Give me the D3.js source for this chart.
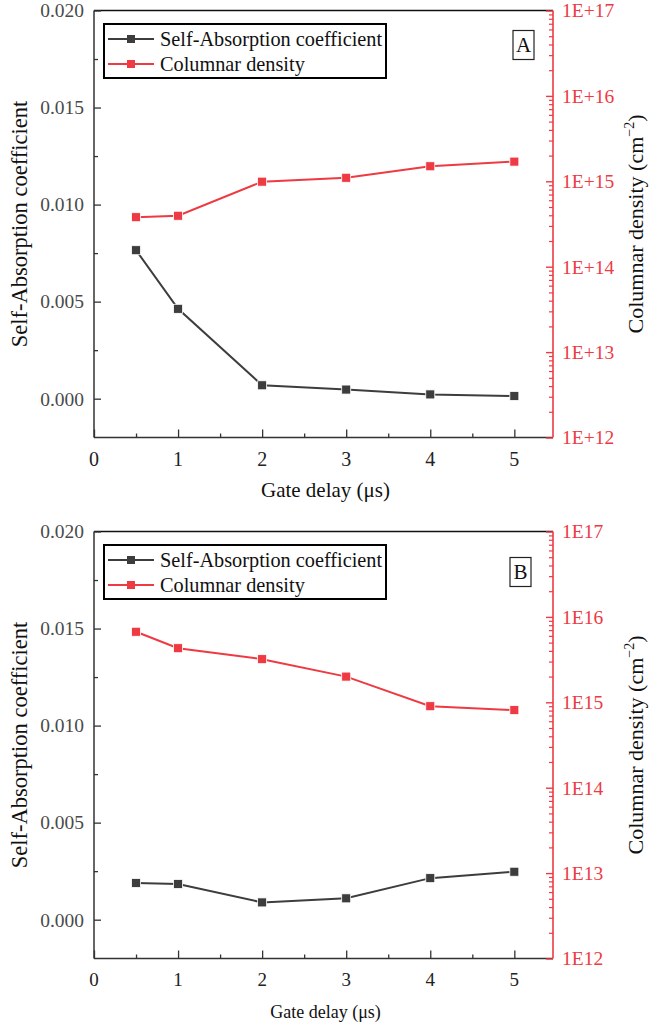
<!DOCTYPE html>
<html><head><meta charset="utf-8">
<script src="https://cdn.jsdelivr.net/npm/d3@7/dist/d3.min.js"></script>
<style>body{margin:0;background:#fff}svg{display:block}</style>
</head><body>
<svg id="c" width="653" height="1029" style="font-family:'Liberation Serif','Times New Roman','DejaVu Serif',serif"></svg>
<script>
// ---- data ----
const gateDelay = [0.5, 1, 2, 3, 4, 5];
const selfAbsA = [0.00765, 0.00463, 0.00069, 0.00047, 0.00022, 0.00014];
const densityA = [3.8e14, 3.95e14, 9.9e14, 1.1e15, 1.5e15, 1.7e15];
const selfAbsB = [0.00189, 0.00184, 0.00089, 0.00110, 0.00214, 0.00247];
const densityB = [6.7e15, 4.3e15, 3.2e15, 2.0e15, 9.0e14, 8.1e14];
const xTicks = [0, 1, 2, 3, 4, 5];
const leftTicks = [0, 0.005, 0.010, 0.015, 0.020];
const rightTicks = [1e12, 1e13, 1e14, 1e15, 1e16, 1e17];
const rightLabelsA = ["1E+12", "1E+13", "1E+14", "1E+15", "1E+16", "1E+17"];
const rightLabelsB = ["1E12", "1E13", "1E14", "1E15", "1E16", "1E17"];
const seriesNames = ["Self-Absorption coefficient", "Columnar density"];
const panelTags = ["A", "B"];

const FONT = "'Liberation Serif','Times New Roman','DejaVu Serif',serif";
const BLACK = "#3d3d3d", RED = "#ee3a42", AXIS = "#333";
const svg = d3.select("#c");

function txt(sel) { return sel.attr("font-family", FONT); }

function panel(cfg) {
  const L = 94, R = 553, T = cfg.top, B = cfg.top + 427;
  const x = d3.scaleLinear().domain([0, 5.46]).range([L, R]);
  const yL = d3.scaleLinear().domain([-0.002, 0.020]).range([B, T]);
  const yR = d3.scaleLog().domain([1e12, 1e17]).range([B, T]);
  const g = svg.append("g");

  g.append("line").attr("x1", L).attr("x2", R).attr("y1", T).attr("y2", T)
    .attr("stroke", "#111").attr("stroke-width", 1.5);

  // left axis
  const la = g.append("g").attr("transform", `translate(${L},0)`)
    .call(d3.axisRight(yL).tickValues(leftTicks).tickSize(7).tickFormat(""));
  la.select(".domain").remove();
  la.selectAll("line").attr("stroke", AXIS).attr("stroke-width", 1.3);
  const lm = g.append("g").attr("transform", `translate(${L},0)`)
    .call(d3.axisRight(yL).tickValues([0.0025, 0.0075, 0.0125, 0.0175]).tickSize(4).tickFormat(""));
  lm.select(".domain").remove();
  lm.selectAll("line").attr("stroke", AXIS).attr("stroke-width", 1.3);
  g.append("line").attr("x1", L).attr("x2", L).attr("y1", T).attr("y2", B).attr("stroke", AXIS).attr("stroke-width", 1.5);
  txt(g.selectAll(".ltl").data(leftTicks).join("text"))
    .attr("x", L - 10).attr("y", d => yL(d)).attr("dy", "0.35em")
    .attr("text-anchor", "end").attr("font-size", 19.5).attr("fill", "#4a4a4a")
    .text(d => d3.format(".3f")(d));

  // bottom axis
  const ba = g.append("g").attr("transform", `translate(0,${B})`)
    .call(d3.axisTop(x).tickValues(xTicks).tickSize(8).tickFormat(""));
  ba.select(".domain").remove();
  ba.selectAll("line").attr("stroke", AXIS).attr("stroke-width", 1.3);
  const bm = g.append("g").attr("transform", `translate(0,${B})`)
    .call(d3.axisTop(x).tickValues([0.5, 1.5, 2.5, 3.5, 4.5]).tickSize(4).tickFormat(""));
  bm.select(".domain").remove();
  bm.selectAll("line").attr("stroke", AXIS).attr("stroke-width", 1.3);
  g.append("line").attr("x1", L).attr("x2", R).attr("y1", B).attr("y2", B).attr("stroke", AXIS).attr("stroke-width", 1.5);
  txt(g.selectAll(".btl").data(xTicks).join("text"))
    .attr("x", d => x(d)).attr("y", B + 21).attr("dy", "0.35em")
    .attr("text-anchor", "middle").attr("font-size", cfg.xfs).attr("fill", "#222")
    .text(d => d);

  // right axis (log)
  const minor = [];
  for (let e = 12; e < 17; e++) for (let m = 2; m <= 9; m++) minor.push(m * Math.pow(10, e));
  const rm = g.append("g").attr("transform", `translate(${R},0)`)
    .call(d3.axisLeft(yR).tickValues(minor).tickSize(4).tickFormat(""));
  rm.select(".domain").remove();
  rm.selectAll("line").attr("stroke", RED).attr("stroke-width", 1.2);
  const ra = g.append("g").attr("transform", `translate(${R},0)`)
    .call(d3.axisLeft(yR).tickValues(rightTicks).tickSize(7).tickFormat(""));
  ra.select(".domain").remove();
  ra.selectAll("line").attr("stroke", RED).attr("stroke-width", 1.4);
  g.append("line").attr("x1", R).attr("x2", R).attr("y1", T).attr("y2", B).attr("stroke", RED).attr("stroke-width", 1.6);
  txt(g.selectAll(".rtl").data(rightTicks).join("text"))
    .attr("x", R + 9).attr("y", d => yR(d)).attr("dy", "0.35em")
    .attr("text-anchor", "start").attr("font-size", 19.5).attr("fill", RED)
    .text((d, i) => cfg.rlabels[i]);

  // titles
  txt(g.append("text")).attr("transform", `translate(27,${(T + B) / 2}) rotate(-90)`)
    .attr("text-anchor", "middle").attr("font-size", 22.5).attr("fill", "#111")
    .text("Self-Absorption coefficient");
  const rt = txt(g.append("text")).attr("transform", `translate(643,${(T + B) / 2}) rotate(-90)`)
    .attr("text-anchor", "middle").attr("font-size", 22).attr("fill", "#111");
  rt.append("tspan").text("Columnar density (cm");
  rt.append("tspan").attr("font-size", 14).attr("dy", -9).text("\u22122");
  rt.append("tspan").attr("dy", 9).text(")");
  txt(g.append("text")).attr("x", (L + R) / 2 + 2).attr("y", cfg.xtitleY).attr("dy", "0.35em")
    .attr("text-anchor", "middle").attr("font-size", cfg.xtfs).attr("fill", "#111")
    .text("Gate delay (\u03bcs)");

  // series
  const line = d3.line();
  const black = gateDelay.map((d, i) => [x(d), yL(cfg.sa[i])]);
  const red = gateDelay.map((d, i) => [x(d), yR(cfg.cd[i])]);
  g.append("path").attr("d", line(black)).attr("fill", "none").attr("stroke", BLACK).attr("stroke-width", 2);
  g.append("path").attr("d", line(red)).attr("fill", "none").attr("stroke", RED).attr("stroke-width", 2);
  g.selectAll(".bm").data(black).join("rect")
    .attr("x", d => d[0] - 4.5).attr("y", d => d[1] - 4.5).attr("width", 9).attr("height", 9)
    .attr("fill", BLACK).attr("stroke", "#fff").attr("stroke-width", 0.8);
  g.selectAll(".rmk").data(red).join("rect")
    .attr("x", d => d[0] - 4.5).attr("y", d => d[1] - 4.5).attr("width", 9).attr("height", 9)
    .attr("fill", RED).attr("stroke", "#fff").attr("stroke-width", 0.8);

  // legend
  const lx = 104, ly = T + 13.5, lw = 282, lh = 54;
  g.append("rect").attr("x", lx).attr("y", ly).attr("width", lw).attr("height", lh)
    .attr("fill", "#fff").attr("stroke", "#000").attr("stroke-width", 2);
  [BLACK, RED].forEach((c, i) => {
    const cy = ly + 15 + i * 25;
    g.append("line").attr("x1", lx + 4).attr("x2", lx + 50).attr("y1", cy).attr("y2", cy)
      .attr("stroke", c).attr("stroke-width", 2);
    g.append("rect").attr("x", lx + 27 - 4).attr("y", cy - 4).attr("width", 8).attr("height", 8).attr("fill", c);
    txt(g.append("text")).attr("x", lx + 56).attr("y", cy).attr("dy", "0.35em")
      .attr("font-size", 20.3).attr("fill", "#111").text(seriesNames[i]);
  });

  // panel tag
  g.append("rect").attr("x", cfg.tagX).attr("y", T + cfg.tagDy).attr("width", 21).attr("height", 29)
    .attr("fill", "#fff").attr("stroke", "#222").attr("stroke-width", 1.2);
  txt(g.append("text")).attr("x", cfg.tagX + 10.5).attr("y", T + cfg.tagDy + 14.5).attr("dy", "0.35em")
    .attr("text-anchor", "middle").attr("font-size", 21).attr("fill", "#111").text(cfg.tag);
}

panel({ top: 10.5, sa: selfAbsA, cd: densityA, rlabels: rightLabelsA, tag: panelTags[0], tagX: 513, tagDy: 20, xfs: 20, xtfs: 21, xtitleY: 490 });
panel({ top: 531.5, sa: selfAbsB, cd: densityB, rlabels: rightLabelsB, tag: panelTags[1], tagX: 510, tagDy: 26, xfs: 19, xtfs: 18, xtitleY: 1012 });
</script>
</body></html>
